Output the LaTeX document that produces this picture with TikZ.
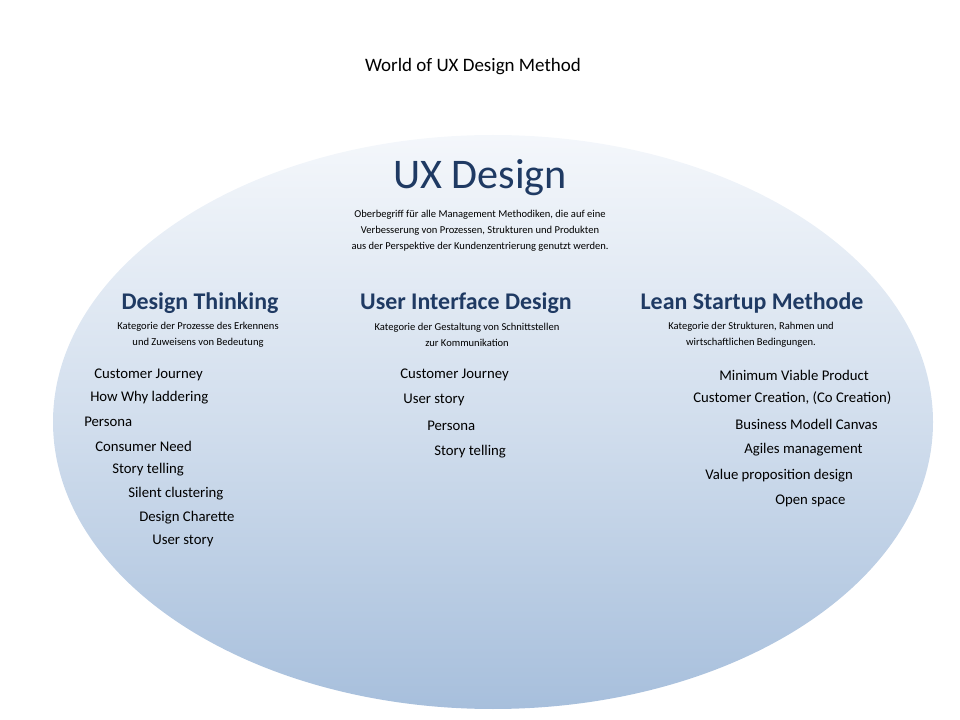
\documentclass[tikz,border=0pt]{standalone}
\usepackage{fontspec}
\setmainfont{Carlito}
\definecolor{uxblue}{HTML}{1F3A63}
\definecolor{ovaltop}{HTML}{F4F7FB}
\definecolor{ovalbottom}{HTML}{A7BFDC}
\newcommand{\descText}[1]{{\fontsize{8}{10}\selectfont #1}}

\begin{document}
\begin{tikzpicture}[x=0.025cm, y=-0.025cm]
  \tikzset{
    heading/.style={text=uxblue, font=\fontsize{17}{20}\selectfont\bfseries},
    desc/.style={align=center, font=\fontsize{7.5}{11.5}\selectfont},
    method/.style={anchor=west, inner sep=0pt, font=\fontsize{10.5}{12}\selectfont}
  }
  \useasboundingbox (0,0) rectangle (960,720);
  \shade[top color=ovaltop, bottom color=ovalbottom, middle color=ovaltop!55!ovalbottom]
    (493,422) ellipse [x radius=440, y radius=287];
  \node (title) at (473,67) {\fontsize{13.5}{16}\selectfont World of UX Design Method};
  \node[text=uxblue, font=\fontsize{30}{34}\selectfont] (ux) at (480,178) {UX Design};
  \node[desc] (uxdesc) at (480,231) {Oberbegriff f\"ur alle Management Methodiken, die auf eine\\
    Verbesserung von Prozessen, Strukturen und Produkten\\
    aus der Perspektive der Kundenzentrierung genutzt werden.};
  % three columns
  \node[heading] (dt) at (200,303) {Design Thinking};
  \node[heading] (uid) at (466,303) {User Interface Design};
  \node[heading] (lean) at (752,303) {Lean Startup Methode};
  \node[desc] (dtdesc) at (198,335) {Kategorie der Prozesse des Erkennens\\und Zuweisens von Bedeutung};
  \node[desc] (uiddesc) at (467,335) {Kategorie der Gestaltung von Schnittstellen\\zur Kommunikation};
  \node[desc] (leandesc) at (751,335) {Kategorie der Strukturen, Rahmen und\\wirtschaftlichen Bedingungen.};
  % methods
  \foreach \x/\y/\t [count=\i] in {94/375/Customer Journey, 90/398/How Why laddering,
      84/422/Persona, 95/446/Consumer Need, 112/470/Story telling,
      128/494/Silent clustering, 139/518/Design Charette, 152/541/User story /Use case}
    \node[method] (dt\i) at (\x,\y) {\t};
  \foreach \x/\y/\t [count=\i] in {400/375/Customer Journey, 403/400/User story /Use case,
      427/426/Persona, 434/452/Story telling}
    \node[method] (uid\i) at (\x,\y) {\t};
  \foreach \x/\y/\t [count=\i] in {719/375/Minimum Viable Product,
      693/398/{Customer Creation, (Co Creation)}, 735/424/Business Modell Canvas,
      744/450/Agiles management, 705/476/Value proposition design, 775/501/Open space}
    \node[method] (lean\i) at (\x,\y) {\t};
\end{tikzpicture}
\end{document}
